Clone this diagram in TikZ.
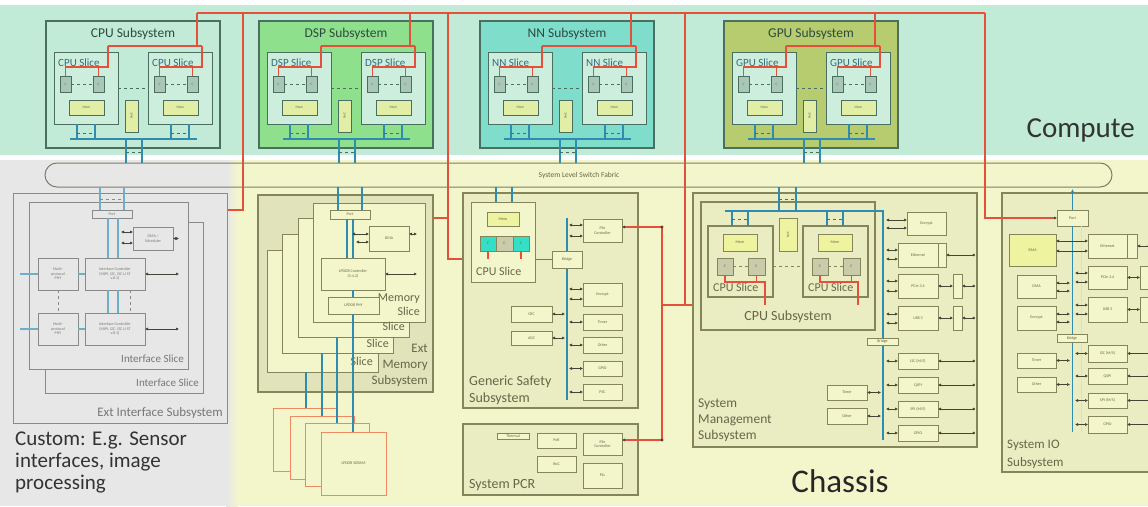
\documentclass[tikz,border=0pt]{standalone}
\usepackage{fontspec}
\setmainfont{Carlito}
\usetikzlibrary{arrows.meta}
\definecolor{cbg}{HTML}{C1EAD7}
\definecolor{chbg}{HTML}{F3F6CB}
\definecolor{gbg}{HTML}{E7E7E7}
\definecolor{cborder}{HTML}{4A6F60}
\definecolor{ctext}{HTML}{2E4A40}
\definecolor{slicetext}{HTML}{2F6C7C}
\definecolor{dspfill}{HTML}{8FE08C}
\definecolor{nnfill}{HTML}{7FDDCB}
\definecolor{gpufill}{HTML}{B6CC6E}
\definecolor{slicefill}{HTML}{CDEEDD}
\definecolor{cfill}{HTML}{A9C6B6}
\definecolor{memfill}{HTML}{E2EEA6}
\definecolor{busblue}{HTML}{2F8CB0}
\definecolor{redc}{HTML}{E5503C}
\definecolor{olv}{HTML}{85855C}
\definecolor{olvtext}{HTML}{66664A}
\definecolor{subfill}{HTML}{EAEDC2}
\definecolor{memsub}{HTML}{E1E4BA}
\definecolor{grayb}{HTML}{8A8A8A}
\definecolor{graytext}{HTML}{777777}
\definecolor{sdram}{HTML}{EE8A62}
\definecolor{cyanc}{HTML}{33E0C6}
\definecolor{darkarrow}{HTML}{454535}
\definecolor{fabricline}{HTML}{7D7D6A}
\definecolor{yel}{HTML}{EEF3A0}
\definecolor{ocfill}{HTML}{C8CCAA}
\newcommand\myfs[1]{\fontsize{#1}{#1}\selectfont\baselineskip=1.12\baselineskip}
\newcommand\bx[7]{\node[#6,minimum width={((#4)-(#2))*1pt},minimum height={((#5)-(#3))*1pt}] (#1) at ({((#2)+(#4))/2},{((#3)+(#5))/2}) {#7};}
\tikzset{
 csubbox/.style={draw=cborder,line width=1.3pt,inner sep=0,outer sep=0},
 slicebox/.style={draw=cborder,fill=slicefill,line width=1pt,inner sep=0,outer sep=0},
 cbox/.style={draw=cborder,fill=cfill,line width=0.7pt,inner sep=0,outer sep=0,font=\myfs{3.5},text=cborder},
 membox/.style={draw=cborder,fill=memfill,line width=0.7pt,inner sep=0,outer sep=0,font=\myfs{3.5},text=cborder},
 bus/.style={draw=busblue,line width=1.6pt},
 redline/.style={draw=redc,line width=1.1pt},
 cdash/.style={draw=cborder,dashed,line width=0.8pt},
 obox/.style={draw=olv,fill=chbg,line width=1pt,inner sep=0,outer sep=0,font=\myfs{4},text=olvtext,align=center},
 subbox/.style={draw=olv,fill=subfill,line width=1.1pt,inner sep=0,outer sep=0},
 yelbox/.style={obox,fill=yel},
 ocbox/.style={obox,fill=ocfill},
 cyanbox/.style={obox,fill=cyanc},
 sdbox/.style={draw=sdram,fill=chbg,line width=1pt,inner sep=0,outer sep=0,font=\myfs{4},text=olvtext},
 gbox/.style={draw=grayb,fill=gbg,line width=0.9pt,inner sep=0,outer sep=0,font=\myfs{4},text=graytext,align=center},
 arr/.style={draw=darkarrow,line width=0.6pt,{Latex[length=3pt,width=3.2pt]}-{Latex[length=3pt,width=3.2pt]}},
 arrl/.style={draw=darkarrow,line width=0.6pt,{Latex[length=3pt,width=3.2pt]}-{Circle[length=2.5pt]}},
 lab/.style={inner sep=0,text=olvtext},
 glab/.style={inner sep=0,text=graytext},
}
\newcommand\csub[5]{%
\begin{scope}[shift={(#2,0)}]
 \bx{#1}{0}{21}{174}{148}{csubbox,fill=#5}{}
 \node[font=\myfs{13.5},text=ctext,inner sep=0] (#1title) at (87,34) {#3};
 \foreach \s/\sx in {L/8,R/102}{
   \bx{#1\s}{\sx}{52}{\sx+64}{124}{slicebox}{}
   \node[anchor=base west,font=\myfs{11},text=slicetext,inner sep=0] (#1\s lab) at (\sx+4,66) {#4};
   \bx{#1\s1}{\sx+6}{76}{\sx+17}{92}{cbox}{C}
   \bx{#1\s2}{\sx+39}{76}{\sx+50}{92}{cbox}{C}
   \bx{#1\s m}{\sx+15}{100}{\sx+50}{115}{membox}{Mem}
   \draw[cdash] (#1\s1) -- (#1\s2);
   \draw[redline] (#1\s1.north) |- (\sx+54,67) -- (\sx+54,46);
   \draw[redline] (#1\s2.north) -- ++(0,-9);
   \draw[bus] (\sx+23,124) -- (\sx+23,139);
   \draw[bus] (\sx+41,124) -- (\sx+41,139);
   \draw[cdash,line width=0.5pt] (\sx+23,133) -- (\sx+41,133);
 }
 \bx{#1noc}{79}{100}{92}{132}{membox}{}
 \node[rotate=90,font=\myfs{3.5},text=cborder,inner sep=0] (#1noct) at (#1noc) {NoC};
 \draw[cdash] (#1L) -- (#1R);
 \draw[redline] (62,46) -- (156,46);
 \draw[redline] (151,46) -- (151,13);
 \draw[bus] (24,139) -- (151,139);
 \draw[bus] (80,139) -- (80,163);
 \draw[bus] (96,139) -- (96,163);
 \draw[cdash,line width=0.5pt] (80,152) -- (96,152);
\end{scope}}
\begin{document}
\begin{tikzpicture}[x=1pt,y=-1pt]
\path[use as bounding box] (0,0) rectangle (1148,506);
\clip (0,0) rectangle (1148,506);
\fill[white] (0,0) rectangle (1148,506);
\fill[cbg] (0,5) rectangle (1148,155);
\fill[gbg] (0,160) rectangle (232,506);
\fill[chbg] (232,160) rectangle (1148,506);
\shade[left color=gbg,right color=chbg] (226,160) rectangle (238,506);
% top red network
\coordinate (r0) at (197,13);
\coordinate (r9) at (985,13);
\draw[redline] (r0) -- (r9);
\draw[redline] (243,13) -- (243,210) -- (180,210) -- (180,343);
\draw[redline] (448,13) -- (448,259) -- (520,259);
\draw[redline] (448,218) -- (417,218) -- (417,282);
\draw[redline] (685,13) -- (685,305);
% compute
\csub{cpu}{46}{CPU Subsystem}{CPU Slice}{cbg}
\csub{dsp}{259}{DSP Subsystem}{DSP Slice}{dspfill}
\csub{nn}{480}{NN Subsystem}{NN Slice}{nnfill}
\csub{gpu}{724}{GPU Subsystem}{GPU Slice}{gpufill}
\node[anchor=base east,inner sep=0,font=\myfs{29},text=black!80] (compute) at (1135,137) {Compute};
% fabric
\node[draw=fabricline,line width=1pt,rounded corners=12pt,minimum width=1067pt,minimum height=24pt,inner sep=0] (fabric) at (578.5,175) {};
\node[font=\myfs{7.5},text=olvtext,inner sep=0] (fabriclab) at (579,175) {System Level Switch Fabric};
% ---------- Ext Interface
\bx{eis}{13}{193}{227}{423}{gbox}{}
\bx{eisl2}{45}{222}{203}{393}{gbox}{}
\bx{eisl1}{29}{202}{188}{369}{gbox}{}
\node[anchor=base east,glab,font=\myfs{13}] (eislab) at (223,416) {Ext Interface Subsystem};
\node[anchor=base east,glab,font=\myfs{11}] (eisl2lab) at (199,386) {Interface Slice};
\node[anchor=base east,glab,font=\myfs{11}] (eisl1lab) at (184,362) {Interface Slice};
\bx{eport}{92}{210}{132}{218}{gbox}{Port}
\bx{edma}{133}{227}{173}{250}{gbox}{DMA /\\Scheduler}
\bx{eic1}{85}{258}{145}{290}{gbox}{Interface Controller\\(MIPI, I2C, I3C LI ST\\v.8.1)}
\bx{eic2}{85}{313}{145}{345}{gbox}{Interface Controller\\(MIPI, I2C, I3C LI ST\\v.8.1)}
\bx{ephy1}{38}{258}{78}{290}{gbox}{Multi-\\protocol\\PHY}
\bx{ephy2}{38}{313}{78}{345}{gbox}{Multi-\\protocol\\PHY}
\draw[bus,busblue!70] (100,187) -- (100,210);
\draw[bus,busblue!70] (124,187) -- (124,210);
\draw[grayb,dashed,line width=0.5pt] (100,199) -- (124,199);
\draw[bus,busblue!70] (108,218) -- (108,258);
\draw[bus,busblue!70] (118,218) -- (118,258);
\draw[bus,busblue!70] (108,290) -- (108,313);
\draw[bus,busblue!70] (118,290) -- (118,313);
\draw[bus,busblue!70] (ephy1.east) -- (eic1.west);
\draw[bus,busblue!70] (ephy2.east) -- (eic2.west);
\draw[bus,busblue!70] (ephy1.west) -- ++(-18,0);
\draw[bus,busblue!70] (ephy2.west) -- ++(-18,0);
\draw[grayb,dashed,line width=0.5pt] (ephy1.south) -- (ephy2.north);
\draw[grayb,dashed,line width=0.5pt] (130,290) -- (130,313);
\draw[arr] (121,232) -- (133,232);
\draw[arr] (121,243) -- (133,243);
\draw[arr] (edma.east) -- (179,238.5);
\draw[arr] (eic1.east) -- (179,274);
\draw[arr] (eic2.east) -- (179,329);
% ---------- Ext Memory
\bx{ems}{258}{195}{433}{392}{subbox,fill=memsub}{}
\node[anchor=base east,lab,font=\myfs{13}] (emsl1) at (428,352) {Ext};
\node[anchor=base east,lab,font=\myfs{13}] (emsl2) at (428,368) {Memory};
\node[anchor=base east,lab,font=\myfs{13}] (emsl3) at (428,384) {Subsystem};
\bx{ems4}{267}{250}{378}{372}{obox}{}
\bx{ems3}{282}{234}{393}{353}{obox}{}
\bx{ems2}{298}{218}{409}{337}{obox}{}
\bx{ems1}{313}{203}{425}{322}{obox}{}
\node[anchor=base east,lab,font=\myfs{12}] (ems4l) at (373,365) {Slice};
\node[anchor=base east,lab,font=\myfs{12}] (ems3l) at (389,347) {Slice};
\node[anchor=base east,lab,font=\myfs{12}] (ems2l) at (405,330) {Slice};
\node[anchor=base east,lab,font=\myfs{12}] (ems1la) at (420,301) {Memory};
\node[anchor=base east,lab,font=\myfs{12}] (ems1lb) at (420,315) {Slice};
\bx{mport}{330}{210}{370}{219}{obox}{Port}
\bx{mdma}{369}{226}{409}{251}{obox}{DMA}
\bx{mctl}{321}{258}{385}{290}{obox}{LPDDR Controller\\(5.4.2)}
\bx{mphy}{328}{297}{379}{314}{obox}{LPDDR PHY}
\bx{sd1}{273}{408}{337}{471}{sdbox}{}
\bx{sd2}{290}{416}{354}{479}{sdbox}{}
\bx{sd3}{305}{423}{369}{486}{sdbox}{}
\bx{sd4}{321}{432}{386}{495}{sdbox}{LPDDR SDRAM}
\draw[bus] (338,187) -- (338,210);
\draw[bus] (362,187) -- (362,210);
\draw[bus] (347,219) -- (347,258);
\draw[bus] (353,219) -- (353,258);
\draw[bus] (353,290) -- (353,297);
\draw[bus] (353,314) -- (353,432);
\draw[bus] (337,337) -- (337,423);
\draw[bus] (322,353) -- (322,416);
\draw[bus] (306,372) -- (306,408);
\draw[arr] (352,234) -- (369,234);
\draw[arr] (356,242) -- (369,242);
\draw[arr] (409,234) -- (417,234);
\draw[arr] (mctl.east) -- (417,274);
% ---------- Generic Safety
\bx{gss}{463}{193}{638}{408}{subbox}{}
\node[anchor=base west,lab,font=\myfs{14}] (gssl1) at (469,385) {Generic Safety};
\node[anchor=base west,lab,font=\myfs{14}] (gssl2) at (469,402) {Subsystem};
\bx{gcpu}{471}{202}{535}{282}{obox}{}
\node[anchor=base west,lab,font=\myfs{12}] (gcpul) at (476,275) {CPU Slice};
\bx{gmem}{487}{212}{519}{226}{yelbox}{Mem}
\bx{gc1}{480}{236}{496}{251}{cyanbox}{C}
\bx{gc2}{496}{236}{513}{251}{ocbox}{C}
\bx{gc3}{513}{236}{529}{251}{cyanbox}{C}
\draw[redline] (gc1.south) -- (488,259);
\draw[redline] (gc3.south) -- (521,259);
\draw[bus] (496,187) -- (496,202);
\draw[bus] (512,187) -- (512,202);
\draw[bus] (567,218) -- (567,400);
\bx{gbridge}{552}{251}{582}{268}{obox}{Bridge}
\draw[bus] (535,259.5) -- (gbridge.west);
\bx{gfile}{583}{219}{622}{242}{obox}{File\\Controller}
\bx{genc}{583}{283}{622}{306}{obox}{Encrypt}
\bx{gtim}{583}{314}{622}{330}{obox}{Timer}
\bx{goth}{583}{337}{622}{353}{obox}{Other}
\bx{ggpio}{583}{361}{622}{376}{obox}{GPIO}
\bx{gpsc}{583}{384}{622}{400}{obox}{PSC}
\bx{gcrc}{511}{306}{552}{322}{obox}{CRC}
\bx{gadc}{511}{331}{552}{345}{obox}{ADC}
\draw[arr] (569,225) -- (583,225);
\draw[arr] (569,236) -- (583,236);
\draw[arr] (569,289) -- (583,289);
\draw[arr] (569,299) -- (583,299);
\draw[arr] (569,322) -- (gtim.west);
\draw[arr] (569,345) -- (goth.west);
\draw[arr] (569,368.5) -- (ggpio.west);
\draw[arr] (569,392) -- (gpsc.west);
\draw[arr] (gcrc.east) -- (565,314);
\draw[arr] (gadc.east) -- (565,338);
% ---------- System PCR
\bx{pcr}{463}{424}{638}{495}{subbox}{}
\node[anchor=base west,lab,font=\myfs{14}] (pcrl) at (469,488) {System PCR};
\bx{pth}{497}{433}{529}{439}{obox}{Thermal}
\bx{ppor}{537}{433}{576}{448}{obox}{PoR}
\bx{proc}{537}{456}{576}{472}{obox}{RoC}
\bx{pfile}{583}{433}{622}{455}{obox}{File\\Controller}
\bx{ppll}{583}{463}{622}{488}{obox}{PLL}
% red links to file controllers
\draw[redline] (662,227) -- (662,440);
\draw[redline] (662,305) -- (858,305);
\draw[redline,-{Latex[length=3pt,width=3.2pt,color=darkarrow]}] (662,227) -- (622,227);
\draw[redline,-{Latex[length=3pt,width=3.2pt,color=darkarrow]}] (662,440) -- (622,440);
\fill[darkarrow] (662,227) circle (1.6);
\fill[darkarrow] (662,440) circle (1.6);
% ---------- System Management
\bx{sms}{693}{193}{977}{447}{subbox}{}
\node[anchor=base west,lab,font=\myfs{13.5}] (smsl1) at (698,407) {System};
\node[anchor=base west,lab,font=\myfs{13.5}] (smsl2) at (698,423) {Management};
\node[anchor=base west,lab,font=\myfs{13.5}] (smsl3) at (698,439) {Subsystem};
\bx{smcpu}{701}{202}{875}{330}{subbox}{}
\node[lab,font=\myfs{14}] (smcpul) at (788,317) {CPU Subsystem};
\bx{smL}{708}{226}{773}{297}{subbox}{}
\bx{smR}{803}{226}{868}{297}{subbox}{}
\node[anchor=base west,lab,font=\myfs{12}] (smLl) at (713,291) {CPU Slice};
\node[anchor=base west,lab,font=\myfs{12}] (smRl) at (808,291) {CPU Slice};
\bx{smLm}{723}{234}{757}{251}{yelbox}{Mem}
\bx{smRm}{818}{234}{852}{251}{yelbox}{Mem}
\bx{smL1}{717}{258}{733}{275}{ocbox}{C}
\bx{smL2}{748}{258}{765}{275}{ocbox}{C}
\bx{smR1}{812}{258}{828}{275}{ocbox}{C}
\bx{smR2}{843}{258}{860}{275}{ocbox}{C}
\bx{smnoc}{779}{218}{797}{251}{yelbox}{}
\node[rotate=90,font=\myfs{3.5},text=olvtext,inner sep=0] (smnoct) at (smnoc) {NoC};
\draw[olv,dashed,line width=0.8pt] (smL1) -- (smL2);
\draw[olv,dashed,line width=0.8pt] (smR1) -- (smR2);
\draw[olv,dashed,line width=0.8pt] (773,266) -- (803,266);
\draw[redline] (smL1.south) |- (765,282) -- (765,305);
\draw[redline] (smL2.south) -- (756.5,282);
\draw[redline] (smR1.south) |- (858,282) -- (858,305);
\draw[redline] (smR2.south) -- (851.5,282);
\draw[bus] (725,211) -- (883,211) -- (883,440);
\draw[bus] (779,187) -- (779,211);
\draw[bus] (796,187) -- (796,211);
\draw[cdash,line width=0.5pt] (779,199) -- (796,199);
\draw[bus] (732,211) -- (732,226);
\draw[bus] (748,211) -- (748,226);
\draw[bus] (827,211) -- (827,226);
\draw[bus] (843,211) -- (843,226);
\draw[cdash,line width=0.5pt] (732,219) -- (748,219);
\draw[cdash,line width=0.5pt] (827,219) -- (843,219);
\bx{smenc}{907}{212}{946}{235}{obox}{Encrypt}
\bx{smeth}{898}{243}{938}{267}{obox}{Ethernet}
\bx{smeths}{938}{243}{946}{267}{obox}{}
\bx{smpcie}{898}{274}{938}{298}{obox}{PCIe 3.4}
\bx{smpcies}{953}{274}{962}{298}{obox}{}
\bx{smusb}{898}{306}{938}{330}{obox}{USB 3}
\bx{smusbs}{953}{306}{962}{330}{obox}{}
\bx{smbr}{867}{338}{898}{345}{obox}{Bridge}
\bx{smi2c}{898}{353}{938}{369}{obox}{I2C (M/S)}
\bx{smqspi}{898}{377}{938}{393}{obox}{QSPI}
\bx{smspi}{898}{401}{938}{417}{obox}{SPI (M/S)}
\bx{smgpio}{898}{425}{938}{441}{obox}{GPIO}
\bx{smtim}{827}{385}{867}{400}{obox}{Timer}
\bx{smoth}{827}{408}{867}{424}{obox}{Other}
\draw[arr] (886,220) -- (907,220);
\draw[arr] (886,228) -- (907,228);
\draw[arr] (886,250) -- (898,250);
\draw[arr] (886,259) -- (898,259);
\draw[arr] (886,281) -- (898,281);
\draw[arr] (886,291) -- (898,291);
\draw[arr] (886,314) -- (898,314);
\draw[arr] (886,323) -- (898,323);
\draw[arr] (886,361) -- (smi2c.west);
\draw[arr] (886,385) -- (smqspi.west);
\draw[arr] (886,409) -- (smspi.west);
\draw[arr] (886,433) -- (smgpio.west);
\draw[arr] (smtim.east) -- (881,392.5);
\draw[arr] (smoth.east) -- (881,416);
\draw[arrl] (smeths.east) -- (975,255);
\draw[arr] (smpcie.east) -- (smpcies.west);
\draw[arrl] (smpcies.east) -- (975,286);
\draw[arr] (smusb.east) -- (smusbs.west);
\draw[arrl] (smusbs.east) -- (975,318);
\draw[arrl] (smi2c.east) -- (975,361);
\draw[arrl] (smqspi.east) -- (975,385);
\draw[arrl] (smspi.east) -- (975,409);
\draw[arrl] (smgpio.east) -- (975,433);
% ---------- System IO
\bx{sio}{1002}{193}{1160}{472}{subbox}{}
\node[anchor=base west,lab,font=\myfs{13}] (siol1) at (1007,448) {System IO};
\node[anchor=base west,lab,font=\myfs{13}] (siol2) at (1007,466) {Subsystem};
\bx{sioport}{1057}{210}{1088}{226}{obox}{Port}
\draw[redline,-{Latex[length=3pt,width=3.2pt,color=darkarrow]}] (985,13) -- (985,218) -- (sioport.west);
\draw[bus,-{Latex[length=4pt,width=4pt]}] (sioport.north) -- (1072.5,189);
\draw[busblue!25,line width=1pt] (1081,226) -- (1081,432);
\draw[bus] (sioport.south) -- (1072.5,432);
\bx{sioram}{1009}{234}{1056}{266}{yelbox}{RAM}
\bx{siodma}{1017}{275}{1056}{298}{obox}{DMA}
\bx{sioenc}{1017}{306}{1056}{330}{obox}{Encrypt}
\bx{siobr}{1057}{334}{1087}{342}{obox}{Bridge}
\bx{siotim}{1017}{353}{1056}{368}{obox}{Timer}
\bx{siooth}{1017}{377}{1056}{392}{obox}{Other}
\bx{sioeth}{1088}{234}{1127}{258}{obox}{Ethernet}
\bx{sioeths}{1127}{234}{1137}{258}{obox}{}
\bx{siopcie}{1088}{266}{1127}{289}{obox}{PCIe 3.4}
\bx{siopcies}{1140}{266}{1152}{289}{obox}{}
\bx{siousb}{1088}{297}{1127}{322}{obox}{USB 3}
\bx{siousbs}{1140}{297}{1152}{322}{obox}{}
\bx{sioi2c}{1088}{345}{1127}{362}{obox}{I2C (M/S)}
\bx{sioqspi}{1088}{368}{1127}{384}{obox}{QSPI}
\bx{siospi}{1088}{393}{1127}{408}{obox}{SPI (M/S)}
\bx{siogpio}{1088}{416}{1127}{433}{obox}{GPIO}
\draw[arr] (1056,241) -- (1088,241);
\draw[arr] (1056,251) -- (1088,251);
\draw[arr] (1056,283) -- (1070,283);
\draw[arr] (1056,291) -- (1070,291);
\draw[arr] (1056,314) -- (1070,314);
\draw[arr] (1056,322) -- (1070,322);
\draw[arr] (siotim.east) -- (1070,360.5);
\draw[arr] (siooth.east) -- (1070,384.5);
\draw[arr] (1075,273) -- (1088,273);
\draw[arr] (1075,282) -- (1088,282);
\draw[arr] (1075,305) -- (1088,305);
\draw[arr] (1075,314) -- (1088,314);
\draw[arr] (1075,353.5) -- (sioi2c.west);
\draw[arr] (1075,376) -- (sioqspi.west);
\draw[arr] (1075,400.5) -- (siospi.west);
\draw[arr] (1075,424.5) -- (siogpio.west);
\draw[arrl] (sioeths.east) -- (1150,246);
\draw[arr] (siopcie.east) -- (siopcies.west);
\draw[arr] (siousb.east) -- (siousbs.west);
\draw[arrl] (sioi2c.east) -- (1150,353.5);
\draw[arrl] (sioqspi.east) -- (1150,376);
\draw[arrl] (siospi.east) -- (1150,400.5);
\draw[arrl] (siogpio.east) -- (1150,424.5);
% ---------- big labels
\node[anchor=base west,inner sep=0,font=\myfs{21},text=black!80] (cust1) at (15,445) {Custom: E.g. Sensor};
\node[anchor=base west,inner sep=0,font=\myfs{21},text=black!80] (cust2) at (15,467) {interfaces, image};
\node[anchor=base west,inner sep=0,font=\myfs{21},text=black!80] (cust3) at (15,489) {processing};
\node[anchor=base,inner sep=0,font=\myfs{33},text=black!85] (chassis) at (840,492) {Chassis};
\end{tikzpicture}
\end{document}
